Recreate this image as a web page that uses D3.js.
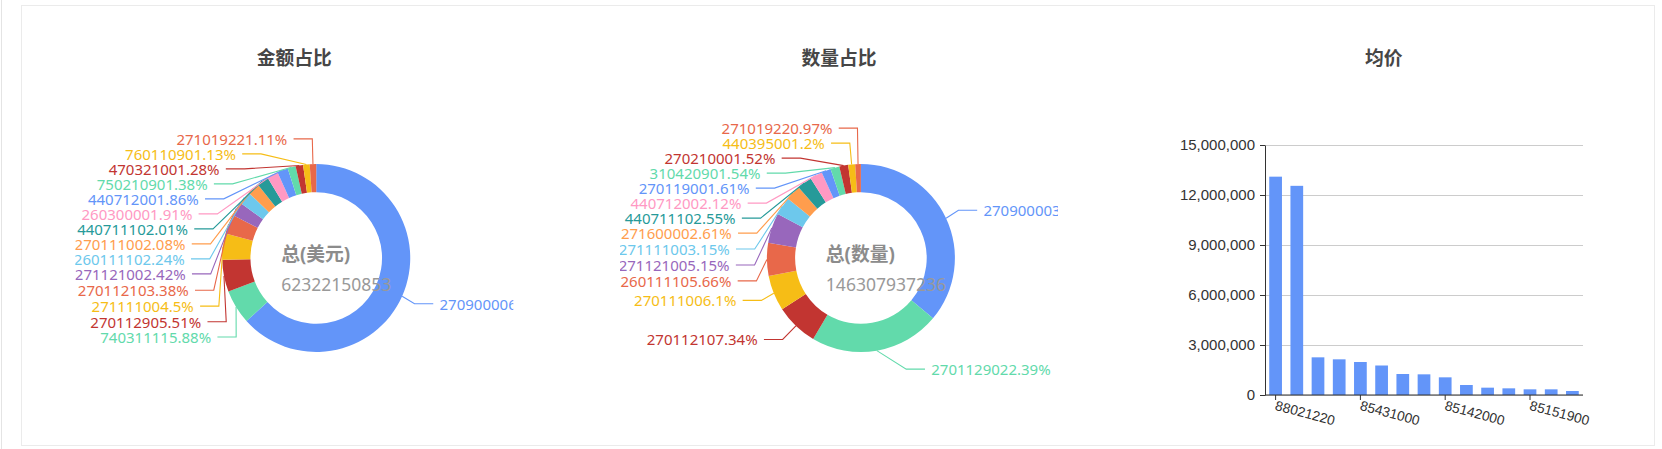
<!DOCTYPE html>
<html lang="zh">
<head>
<meta charset="utf-8">
<title>金额占比 / 数量占比 / 均价</title>
<style>
  body { margin: 0; background: #fff; }
  svg { display: block; font-family: "Noto Sans", "Noto Sans CJK SC", sans-serif; }
</style>
</head>
<body>
<svg id="board"></svg>
<script src="https://cdn.jsdelivr.net/npm/d3@7"></script>
<script>
// ---- data ----
const amountCodes = ['27090000', '74031111', '27011290', '27111100', '27011210', '27112100', '26011110',
  '27011100', '44071110', '26030000', '44071200', '75021090', '47032100', '76011090', '27101922'];
const amountShares = [63.31, 5.88, 5.51, 4.5, 3.38, 2.42, 2.24, 2.08, 2.01, 1.91, 1.86, 1.38, 1.28, 1.13, 1.11];
const amountTotal = '62322150853';

const quantityCodes = ['27090000', '27011290', '27011210', '27011100', '26011110', '27112100', '27111100',
  '27160000', '44071110', '44071200', '27011900', '31042090', '27021000', '44039500', '27101922'];
const quantityShares = [36.09, 22.39, 7.34, 6.1, 5.66, 5.15, 3.15, 2.61, 2.55, 2.12, 1.61, 1.54, 1.52, 1.2, 0.97];
const quantityTotal = '146307937236';

// only every 4th code is printed under the bars
const priceLabels = ['88021220', '', '', '', '85431000', '', '', '', '85142000', '', '', '', '85151900', '', ''];
const priceValues = [13100000, 12550000, 2260000, 2140000, 1980000, 1770000, 1260000, 1240000, 1060000,
  600000, 440000, 400000, 340000, 340000, 240000];
const priceTicks = [0, 3000000, 6000000, 9000000, 12000000, 15000000];

const palette = ['#6395f9', '#62daab', '#c23531', '#f6bd16', '#e8684a', '#9867bc', '#6dc8ec', '#ff9d4d', '#269a99', '#ff99c3'];

const W = 1662, H = 449;
const svg = d3.select('#board').attr('width', W).attr('height', H);

// page frame
svg.append('line').attr('x1', 1.5).attr('x2', 1.5).attr('y1', 0).attr('y2', H)
  .attr('stroke', '#e4e4e4');
svg.append('rect').attr('x', 21.5).attr('y', 5.5).attr('width', 1633).attr('height', 440)
  .attr('fill', 'none').attr('stroke', '#ebebeb');

const colW = 1634 / 3, chartW = 438;
function chartLeft(i) { return 22 + i * colW + (colW - chartW) / 2; }

const titles = ['金额占比', '数量占比', '均价'];
titles.forEach(function(t, i) {
  const x0 = chartLeft(i);
  svg.append('clipPath').attr('id', 'clip' + i)
    .append('rect').attr('x', x0).attr('y', 5).attr('width', chartW).attr('height', 441);
  svg.append('text').text(t)
    .attr('x', x0 + chartW / 2).attr('y', 57)
    .attr('text-anchor', 'middle').attr('dominant-baseline', 'central')
    .style('font-size', '18.75px').style('font-weight', 'bold').attr('fill', '#464646');
});

// ---- donuts ----
const R = 94, R0 = 65.8, LEN = 18.75, LEN2 = 18.75, DIST = 6.25, LH = 15;

function adjustSide(list, cx, cy, dir, viewTop, viewBottom) {
  list.sort((a, b) => a.y - b.y);
  function shiftUp(end, delta) {
    for (let j = end; j >= 0; j--) {
      if (list[j].y - delta < viewTop) break;
      list[j].y -= delta;
      if (j > 0 && list[j].y > list[j - 1].y + LH) break;
    }
  }
  function shiftDown(start, end, delta) {
    for (let j = start; j < end; j++) {
      if (list[j].y + delta > viewBottom) break;
      list[j].y += delta;
      if (j > start && j + 1 < end && list[j + 1].y > list[j].y + LH) {
        shiftUp(j, delta / 2);
        return;
      }
    }
    shiftUp(end - 1, delta / 2);
  }
  function changeX(items, isDown) {
    let last = isDown ? Number.MAX_VALUE : 0;
    items.forEach(function(it) {
      const dy = Math.abs(it.y - cy);
      let dx = dy < R + LEN ? Math.sqrt((R + LEN + LEN2) * (R + LEN + LEN2) - dy * dy) : Math.abs(it.x - cx);
      if (isDown && dx >= last) dx = last - 10;
      if (!isDown && dx <= last) dx = last + 10;
      it.x = cx + dx * dir;
      last = dx;
    });
  }
  let lastY = viewTop;
  for (let i = 0; i < list.length; i++) {
    const delta = list[i].y - lastY;
    if (delta < 0) shiftDown(i, list.length, -delta);
    lastY = list[i].y + LH;
  }
  if (viewBottom - lastY < 0) shiftUp(list.length - 1, lastY - viewBottom);
  changeX(list.filter(it => it.y < cy), false);
  changeX(list.filter(it => it.y >= cy), true);
}

function drawDonut(i, codes, shares, centerTitle, total) {
  const x0 = chartLeft(i);
  const cx = x0 + chartW * 0.55, cy = 258;
  const sum = d3.sum(shares);
  const slices = d3.pie().sort(null).value(d => d)(shares);
  const arc = d3.arc().innerRadius(R0).outerRadius(R);

  const g = svg.append('g').attr('clip-path', 'url(#clip' + i + ')');
  g.append('g').attr('transform', 'translate(' + cx + ',' + cy + ')')
    .selectAll('path').data(slices).enter().append('path')
    .attr('d', arc)
    .attr('fill', d => palette[d.index % palette.length]);

  // label layout in the echarts way: radial line, then a short horizontal one
  const labels = slices.map(function(d) {
    const a = (d.startAngle + d.endAngle) / 2;
    const ux = Math.sin(a), uy = -Math.cos(a);
    const dir = ux < 0 ? -1 : 1;
    const x2 = cx + (R + LEN) * ux, y2 = cy + (R + LEN) * uy;
    const x3 = x2 + dir * LEN2;
    return {
      d: d, dir: dir, x: x3 + dir * DIST, y: y2,
      pts: [[cx + R * ux, cy + R * uy], [x2, y2], [x3, y2]],
      text: codes[d.index] + (+(d.value / sum * 100).toFixed(2)) + '%'
    };
  });
  adjustSide(labels.filter(l => l.x >= cx), cx, cy, 1, 5, 446);
  adjustSide(labels.filter(l => l.x < cx), cx, cy, -1, 5, 446);
  labels.forEach(function(l) {
    l.pts[2][0] = l.x - l.dir * DIST;
    l.pts[1][0] = l.pts[2][0] - l.dir * LEN2;
    l.pts[1][1] = l.pts[2][1] = l.y;
  });

  g.append('g').selectAll('path').data(labels).enter().append('path')
    .attr('d', l => d3.line()(l.pts))
    .attr('fill', 'none')
    .attr('stroke', l => palette[l.d.index % palette.length])
    .attr('stroke-width', 1.1);

  g.append('g').selectAll('text').data(labels).enter().append('text')
    .text(l => l.text)
    .attr('x', l => l.x).attr('y', l => l.y)
    .attr('text-anchor', l => l.dir < 0 ? 'end' : 'start')
    .attr('dominant-baseline', 'central')
    .style('font-size', '15px')
    .attr('fill', l => palette[l.d.index % palette.length]);

  const tx = x0 + chartW * 0.47;
  g.append('text').text(centerTitle)
    .attr('x', tx).attr('y', 253.5).attr('dominant-baseline', 'central')
    .style('font-size', '18.75px').style('font-weight', 'bold').attr('fill', '#8c8c8c');
  g.append('text').text(total)
    .attr('x', tx).attr('y', 284).attr('dominant-baseline', 'central')
    .style('font-size', '17.5px').attr('fill', '#999');
}

drawDonut(0, amountCodes, amountShares, '总(美元)', amountTotal);
drawDonut(1, quantityCodes, quantityShares, '总(数量)', quantityTotal);

// ---- average price bars ----
const plot = { left: 1265, right: 1583, top: 145, bottom: 395 };
const x = d3.scaleBand().domain(d3.range(priceValues.length)).range([plot.left, plot.right]);
const y = d3.scaleLinear().domain([0, 15000000]).range([plot.bottom, plot.top]);
const bg = svg.append('g').attr('clip-path', 'url(#clip2)');

bg.append('g').attr('transform', 'translate(0,0)')
  .call(d3.axisLeft(y).tickValues(priceTicks).tickSize(-(plot.right - plot.left)).tickFormat(''))
  .attr('transform', 'translate(' + plot.left + ',0)')
  .call(s => s.select('.domain').remove())
  .call(s => s.selectAll('line').attr('stroke', '#cccccc'));

const barW = x.bandwidth() * 0.6;
bg.append('g').selectAll('rect').data(priceValues).enter().append('rect')
  .attr('x', (d, i) => x(i) + (x.bandwidth() - barW) / 2)
  .attr('width', barW)
  .attr('y', d => y(d))
  .attr('height', d => plot.bottom - y(d))
  .attr('fill', '#6395f9');

bg.append('g').attr('transform', 'translate(' + plot.left + ',0)')
  .call(d3.axisLeft(y).tickValues(priceTicks).tickSize(5).tickSizeOuter(0).tickPadding(5).tickFormat(d3.format(',')))
  .call(s => s.select('.domain').attr('stroke', '#333'))
  .call(s => s.selectAll('line').attr('stroke', '#333'))
  .call(s => s.selectAll('text').style('font-size', '15px').style('font-family', null).attr('fill', '#333'));

bg.append('g').attr('transform', 'translate(0,' + plot.bottom + ')')
  .call(d3.axisBottom(x).tickValues(d3.range(0, priceValues.length, 4)).tickSize(5).tickSizeOuter(0)
    .tickFormat(i => priceLabels[i]).offset(0))
  .call(s => s.select('.domain').attr('stroke', '#333'))
  .call(s => s.selectAll('line').attr('stroke', '#333'))
  .call(s => s.selectAll('text')
    .attr('y', 0).attr('dy', '0.35em')
    .attr('transform', 'translate(0,10) rotate(15)')
    .attr('text-anchor', 'start')
    .style('font-size', '13.75px').style('font-family', null).attr('fill', '#333'));
</script>
</body>
</html>
